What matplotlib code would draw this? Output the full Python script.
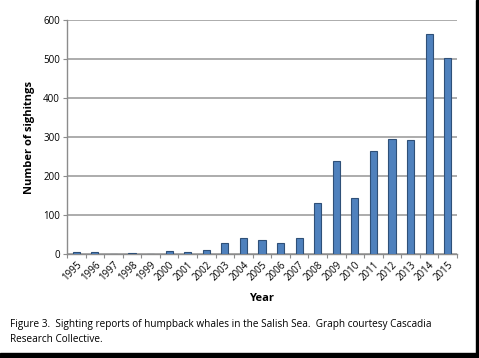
import numpy as np
import matplotlib
matplotlib.use("Agg")
import matplotlib.pyplot as plt
from matplotlib.patches import Rectangle

years = ['1995', '1996', '1997', '1998', '1999', '2000', '2001', '2002', '2003', '2004',
         '2005', '2006', '2007', '2008', '2009', '2010', '2011', '2012', '2013', '2014', '2015']
sightings = [4, 4, 1, 2, 1, 8, 4, 11, 29, 40, 36, 27, 40, 132, 238, 144, 263, 295, 292, 563, 502]
y_ticks = [0, 100, 200, 300, 400, 500, 600]

caption = ("Figure 3.  Sighting reports of humpback whales in the Salish Sea.  Graph courtesy Cascadia\n"
           "Research Collective.")

plt.rcParams['font.family'] = ['Open Sans', 'DejaVu Sans']

W, H = 479, 358
fig = plt.figure(figsize=(W / 100, H / 100), dpi=100)
fig.patch.set_facecolor('white')

# axes box in pixels: left 67, right 457, top 20, bottom 254
ax = fig.add_axes([67 / W, 1 - 254 / H, (457 - 67) / W, (254 - 20) / H])

x = np.arange(len(years))
ax.bar(x, sightings, width=0.38, color='#4f81bd', edgecolor='#2f5078', linewidth=0.8, zorder=3)

ax.set_xlim(-0.5, len(years) - 0.5)
ax.set_ylim(0, 600)
ax.set_yticks(y_ticks)
ax.set_yticklabels([str(v) for v in y_ticks], fontsize=7)
ax.yaxis.grid(True, color='#a6a6a6', linewidth=1.3, zorder=0)
ax.tick_params(axis='y', length=3, color='#8c8c8c', pad=2)

# ticks at category boundaries, labels centered on bars
ax.set_xticks(np.arange(len(years) + 1) - 0.5)
ax.set_xticklabels([])
ax.set_xticks(x, minor=True)
ax.set_xticklabels(years, minor=True, rotation=45, ha='right', rotation_mode='anchor', fontsize=7)
ax.tick_params(axis='x', which='major', length=3, color='#8c8c8c')
ax.tick_params(axis='x', which='minor', length=0, pad=4)

for s in ['top', 'right']:
    ax.spines[s].set_visible(False)
for s in ['left', 'bottom']:
    ax.spines[s].set_color('#8c8c8c')
    ax.spines[s].set_linewidth(1.0)

ax.set_xlabel('Year', fontsize=8, fontweight='bold', labelpad=7)
ax.set_ylabel('Number of sighitngs', fontsize=8, fontweight='bold', labelpad=6)

fig.text(10 / W, 1 - 319 / H, caption, fontsize=7.2, va='top', ha='left', linespacing=1.45)

# black frame at right and bottom edges
fig.patches.append(Rectangle((476 / W, 0), 1, 1, transform=fig.transFigure, color='black', zorder=10))
fig.patches.append(Rectangle((0, 0), 1, 1 - 353 / H, transform=fig.transFigure, color='black', zorder=10))

fig.savefig('out.png', dpi=100)
